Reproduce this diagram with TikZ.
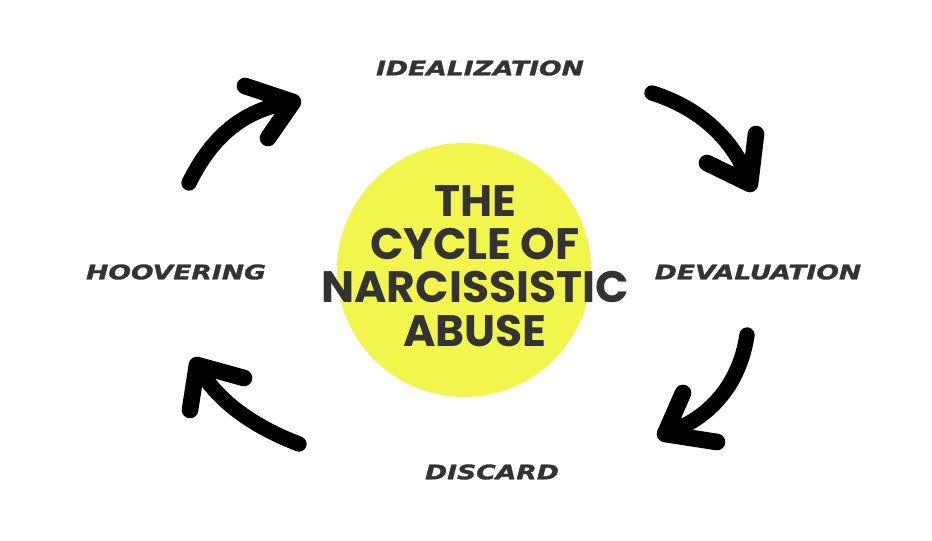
\documentclass[tikz,border=0pt]{standalone}
\usepackage{fontspec}
\usetikzlibrary{calc}
\newfontfamily\titlefont{Poppins}
\newfontfamily\stagefont[FakeStretch=1.33,FakeBold=1.5]{DejaVu Sans}
\definecolor{ink}{RGB}{51,51,51}
\definecolor{blob}{RGB}{242,246,76}
\tikzset{
  stage/.style={inner sep=0.75pt, text=ink, font=\stagefont\bfseries\itshape\fontsize{15}{15}\selectfont},
  brush/.style={line width=11.5pt, line cap=round, line join=round},
  barb/.style={line width=12.5pt, line cap=round, line join=round}
}
\begin{document}
\begin{tikzpicture}[x=0.75pt,y=0.75pt,yscale=-1,xscale=1]
\path[use as bounding box] (0,0) rectangle (932,540);

%Circle [id:blob]
\fill[blob] (464,270) circle (127);

% Text Node
\node (title) [inner sep=0.75pt, text=ink, align=center, font=\titlefont\bfseries\fontsize{33}{32.5}\selectfont] at (475,266) {THE\\CYCLE OF\\NARCISSISTIC\\ABUSE};

% Text Node
\node (ideal) [stage] at (480,68) {IDEALIZATION};
% Text Node
\node (deval) [stage] at (758,272) {DEVALUATION};
% Text Node
\node (disc) [stage] at (492,472) {DISCARD};
% Text Node
\node (hoov) [stage] at (176,272) {HOOVERING};

%Arrow ends
\coordinate (t1) at (189,183); \coordinate (h1) at (293,102);
\coordinate (t2) at (652,93);  \coordinate (h2) at (750,184);
\coordinate (t3) at (747,335); \coordinate (h3) at (665,434);
\coordinate (t4) at (299,444); \coordinate (h4) at (197,365);
%Barb ends
\coordinate (a1) at (245,86);  \coordinate (b1) at (268,138);
\coordinate (a2) at (756,134); \coordinate (b2) at (707,163);
\coordinate (a3) at (683,393); \coordinate (b3) at (717,442);
\coordinate (a4) at (244,378); \coordinate (b4) at (190,410);

%Curved Arrows
\foreach \i/\ca/\cb in {1/{(215,130)}/{(250,108)}, 2/{(700,108)}/{(735,140)}, 3/{(740,382)}/{(712,418)}, 4/{(252,426)}/{(216,400)}} {
  \draw[brush] (t\i) .. controls \ca and \cb .. (h\i);
  \draw[barb] (a\i) -- (h\i) -- (b\i);
  \fill[line join=round] (h\i) -- ($(h\i)!0.6!(a\i)$) -- ($(h\i)!0.6!(b\i)$) -- cycle;
}

\end{tikzpicture}
\end{document}
